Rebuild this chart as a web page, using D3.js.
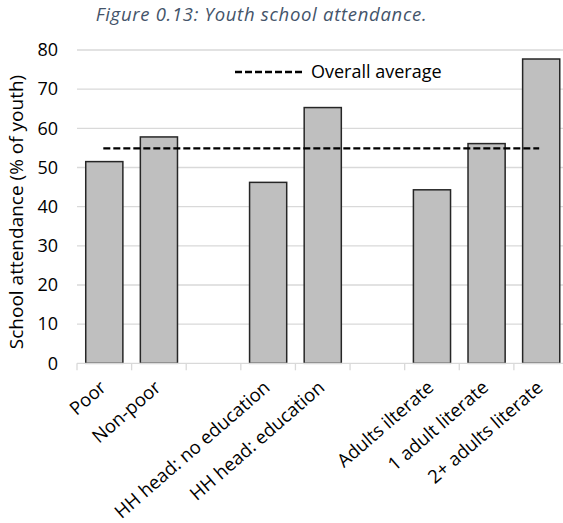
<!DOCTYPE html>
<html><head><meta charset="utf-8">
<script src="https://cdn.jsdelivr.net/npm/d3@7"></script>
<style>body{margin:0;background:#fff;}svg{display:block;}</style>
</head><body>
<svg id="c" width="563" height="523"></svg>
<script>
const categories = ["Poor","Non-poor","gap1","HH head: no education","HH head: education","gap2","Adults ilterate","1 adult literate","2+ adults literate"];
const labels = ["Poor","Non-poor","","HH head: no education","HH head: education","","Adults ilterate","1 adult literate","2+ adults literate"];
const values = [51.5,57.8,null,46.2,65.3,null,44.3,56.1,77.7];
const overallAverage = 54.9;
const yTicks = [0,10,20,30,40,50,60,70,80];

const svg = d3.select("#c");
const font = "'Open Sans', sans-serif";
const fs = 18;
const x = d3.scaleBand().domain(categories).range([77, 568.5]).paddingInner(0).paddingOuter(0);
const y = d3.scaleLinear().domain([0,80]).range([363.3, 50]);

// title
svg.append("text").attr("x", 261.5).attr("y", 21).attr("text-anchor","middle")
  .attr("font-family","'Open Sans', sans-serif").attr("font-style","italic")
  .attr("font-size", 18.5).attr("letter-spacing", 0.7).attr("fill","#44546A").text("Figure 0.13: Youth school attendance.");

// gridlines
svg.append("g").selectAll("line").data(yTicks.filter(d=>d>0)).join("line")
  .attr("x1",77).attr("x2",563).attr("y1",d=>y(d)).attr("y2",d=>y(d))
  .attr("stroke","#d9d9d9").attr("stroke-width",1.3);

// y axis labels
const yAxis = d3.axisLeft(y).tickValues(yTicks).tickSize(0).tickPadding(0);
const yg = svg.append("g").attr("transform","translate(58,0)").call(yAxis);
yg.select(".domain").remove();
yg.selectAll("text").attr("font-family",font).attr("font-size",fs).attr("fill","#000");

// y title
svg.append("text").attr("transform","translate(23,212) rotate(-90)").attr("text-anchor","middle")
  .attr("font-family",font).attr("font-size",19).attr("fill","#000").text("School attendance (% of youth)");

// bars
const bw = x.bandwidth()*0.68;
svg.append("g").selectAll("rect").data(categories.map((c,i)=>({c,v:values[i]})).filter(d=>d.v!=null)).join("rect")
  .attr("x",d=>x(d.c)+(x.bandwidth()-bw)/2).attr("width",bw)
  .attr("y",d=>y(d.v)).attr("height",d=>y(0)-y(d.v))
  .attr("fill","#bfbfbf").attr("stroke","#262626").attr("stroke-width",1.5);

// x axis
const xg = svg.append("g").attr("transform",`translate(0,${y(0)})`);
xg.append("line").attr("x1",77).attr("x2",563).attr("y1",0).attr("y2",0).attr("stroke","#d9d9d9").attr("stroke-width",1.3);
const bounds = categories.map(c=>x(c));
xg.selectAll("line.tk").data(bounds).join("line").attr("class","tk")
  .attr("x1",d=>d).attr("x2",d=>d).attr("y1",0).attr("y2",7).attr("stroke","#d9d9d9").attr("stroke-width",1.3);
xg.selectAll("text").data(categories.map((c,i)=>({c,l:labels[i]})).filter(d=>d.l)).join("text")
  .attr("transform",d=>`translate(${x(d.c)+x.bandwidth()/2+3},${26}) rotate(-41)`)
  .attr("text-anchor","end").attr("font-family",font).attr("font-size",18.5).attr("fill","#000").text(d=>d.l);

// overall average line
const first = categories[0], last = categories[categories.length-1];
svg.append("line").attr("x1",x(first)+x.bandwidth()/2-1).attr("x2",x(last)+x.bandwidth()/2-2)
  .attr("y1",y(overallAverage)).attr("y2",y(overallAverage))
  .attr("stroke","#000").attr("stroke-width",2.3).attr("stroke-dasharray","7,3");

// legend
svg.append("line").attr("x1",235).attr("x2",303).attr("y1",72).attr("y2",72)
  .attr("stroke","#000").attr("stroke-width",2.3).attr("stroke-dasharray","7,3");
svg.append("text").attr("x",311).attr("y",78).attr("font-family",font).attr("font-size",fs).attr("fill","#000").text("Overall average");
</script>
</body></html>
